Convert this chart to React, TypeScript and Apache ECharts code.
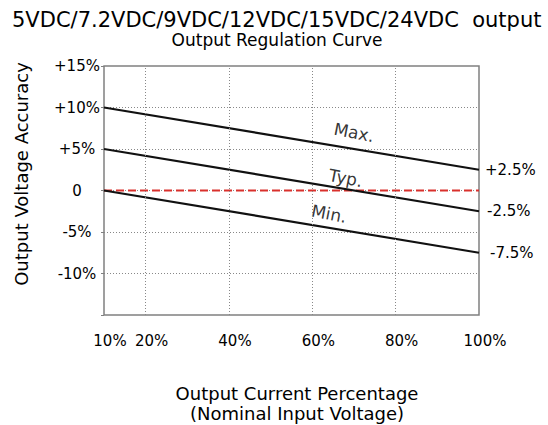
import React, { useEffect, useRef } from 'react';
import * as echarts from 'echarts';

const titleText = '5VDC/7.2VDC/9VDC/12VDC/15VDC/24VDC  output';
const subtitleText = 'Output Regulation Curve';
const yAxisName = 'Output Voltage Accuracy';
const xAxisNameLines = ['Output Current Percentage', '(Nominal Input Voltage)'];

const xValues = [10, 100];
const maxValues = [10, 2.5];
const typValues = [5, -2.5];
const minValues = [0, -7.5];
const zeroValues = [0, 0];
const curveNames = ['Max.', 'Typ.', 'Min.'];
const endLabels = ['+2.5%', '-2.5%', '-7.5%'];
const curveLabelX = [70, 68, 64];
const curveLabelY = [7.0, 1.5, -2.8];
const xTickValues = [10, 20, 40, 60, 80, 100];
const xGridValues = [20, 40, 60, 80];
const yTickValues = [15, 10, 5, 0, -5, -10];
const yTickLabels = ['+15%', '+10%', '+5%', '0', '-5%', '-10%'];

const FONT = '"DejaVu Sans", sans-serif';

export default function App() {
  const ref = useRef<HTMLDivElement>(null);
  useEffect(() => {
    if (!ref.current) return;
    const chart = echarts.init(ref.current, null, { renderer: 'svg' });
    const curves = [maxValues, typValues, minValues];
    const endDist = [6, 8, 11];
    chart.setOption({
      animation: false,
      backgroundColor: '#fff',
      grid: {
        left: 104,
        right: 69,
        top: 66,
        bottom: 110,
        show: true,
        borderColor: '#808080',
        borderWidth: 1.5,
        backgroundColor: 'transparent',
      },
      xAxis: {
        type: 'value',
        min: 10,
        max: 100,
        interval: 10,
        axisLine: { show: false },
        axisTick: { show: false },
        splitLine: { show: false },
        axisLabel: {
          customValues: xTickValues,
          formatter: (v: number) => `${v}%`,
          fontSize: 15,
          fontFamily: FONT,
          color: '#000',
          margin: 18,
          padding: [0, 0, 0, 12],
        },
      },
      yAxis: {
        type: 'value',
        min: -15,
        max: 15,
        interval: 5,
        axisLine: { show: false },
        axisTick: { show: true, length: 3, lineStyle: { color: '#808080' } },
        splitLine: {
          show: true,
          showMinLine: false,
          showMaxLine: false,
          lineStyle: { color: '#888', type: [1, 2], width: 1 },
        },
        axisLabel: {
          formatter: (v: number) => {
            const i = yTickValues.indexOf(v);
            return i >= 0 ? yTickLabels[i] : '';
          },
          align: 'center',
          margin: 27,
          fontSize: 15,
          fontFamily: FONT,
          color: '#000',
        },
      },
      graphic: [
        {
          type: 'text',
          x: 12,
          y: 20,
          style: { text: titleText, font: `21px ${FONT}`, fill: '#000', align: 'left', verticalAlign: 'middle' },
        },
        {
          type: 'text',
          x: 277,
          y: 40,
          style: { text: subtitleText, font: `17px ${FONT}`, fill: '#000', align: 'center', verticalAlign: 'middle' },
        },
        {
          type: 'text',
          x: 21,
          y: 174,
          rotation: Math.PI / 2,
          style: { text: yAxisName, font: `18px ${FONT}`, fill: '#000', align: 'center', verticalAlign: 'middle' },
        },
        {
          type: 'text',
          x: 297,
          y: 393,
          style: { text: xAxisNameLines[0], font: `18px ${FONT}`, fill: '#000', align: 'center', verticalAlign: 'middle' },
        },
        {
          type: 'text',
          x: 297,
          y: 413,
          style: { text: xAxisNameLines[1], font: `18px ${FONT}`, fill: '#000', align: 'center', verticalAlign: 'middle' },
        },
      ],
      series: [
        {
          type: 'line',
          data: xValues.map((x, i) => [x, zeroValues[i]]),
          symbol: 'none',
          z: 2,
          lineStyle: { color: '#d9302c', width: 2, type: [8, 4] },
          markLine: {
            silent: true,
            symbol: 'none',
            label: { show: false },
            lineStyle: { color: '#888', type: [1, 2], width: 1 },
            data: xGridValues.map((v) => ({ xAxis: v })),
          },
        },
        ...curves.map((vals, i) => ({
          type: 'line',
          name: curveNames[i],
          data: xValues.map((x, j) => [x, vals[j]]),
          symbol: 'none',
          z: 3,
          lineStyle: { color: '#111', width: 2.2 },
          endLabel: {
            show: true,
            formatter: endLabels[i],
            distance: endDist[i],
            fontSize: 15,
            fontFamily: FONT,
            color: '#000',
          },
        })),
        {
          type: 'scatter',
          silent: true,
          symbolSize: 0,
          data: curveLabelX.map((x, i) => ({ value: [x, curveLabelY[i]], name: curveNames[i] })),
          label: {
            show: true,
            position: 'inside',
            formatter: '{b}',
            rotate: -11,
            fontSize: 17,
            fontFamily: FONT,
            color: '#000',
          },
        },
      ],
    });
    return () => chart.dispose();
  }, []);
  return <div ref={ref} style={{ width: 548, height: 425, position: 'absolute', left: 0, top: 0 }} />;
}
